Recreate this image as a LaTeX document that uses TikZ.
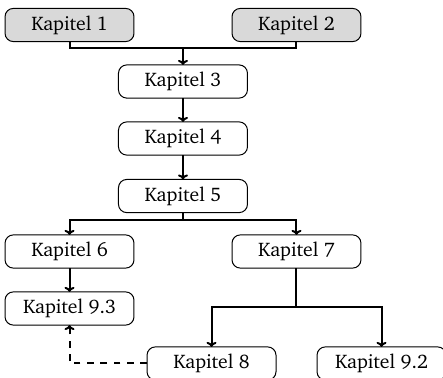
\documentclass[tikz,border=0pt]{standalone}
\usepackage[T1]{fontenc}
\usepackage{charter}
\usetikzlibrary{positioning,arrows.meta}
\begin{document}
\begin{tikzpicture}[inner sep=0pt,outer sep=0pt,line width=1.2pt,>={To[length=3pt,width=6pt]},
chapter/.style={draw,rectangle,rounded corners=5pt,minimum width=2.72cm,minimum height=0.7cm,line width=0.6pt,fill=white,font=\fontsize{11.8}{14}\selectfont},
startchapter/.style={chapter,fill=gray!30}]
\useasboundingbox (0,0) rectangle (9.343,-7.972);
\draw (1.466,-0.527) node[startchapter] (k1) {Kapitel 1};
\draw (6.253,-0.527) node[startchapter] (k2) {Kapitel 2};
\draw (3.859,-1.719) node[chapter] (k3) {Kapitel 3};
\draw (3.859,-2.921) node[chapter] (k4) {Kapitel 4};
\draw (3.859,-4.134) node[chapter] (k5) {Kapitel 5};
\draw (1.466,-5.304) node[chapter] (k6) {Kapitel 6};
\draw (6.253,-5.304) node[chapter] (k7) {Kapitel 7};
\draw (1.466,-6.506) node[chapter] (k93) {Kapitel 9.3};
\draw (4.461,-7.666) node[chapter] (k8) {Kapitel 8};
\draw (8.046,-7.666) node[chapter] (k92) {Kapitel 9.2};
% joins
\coordinate (j12) at (3.859,-1.012);
\coordinate[below=0.15cm of k5] (j5);
\coordinate[below=0.82cm of k7] (j7);
\draw (k1.south) |- (j12) -| (k2.south);
\draw[->] (j12) -- (k3);
\draw[->] (k3) -- (k4);
\draw[->] (k4) -- (k5);
\draw (k5) -- (j5);
\draw[->] (j5) -| (k6);
\draw[->] (j5) -| (k7);
\draw[->] (k6) -- (k93);
\draw (k7) -- (j7);
\draw[->] (j7) -| (k8);
\draw[->] (j7) -| (k92);
\draw[->,dash pattern=on 4pt off 4pt] (k8.west) -| (k93);
\end{tikzpicture}
\end{document}
